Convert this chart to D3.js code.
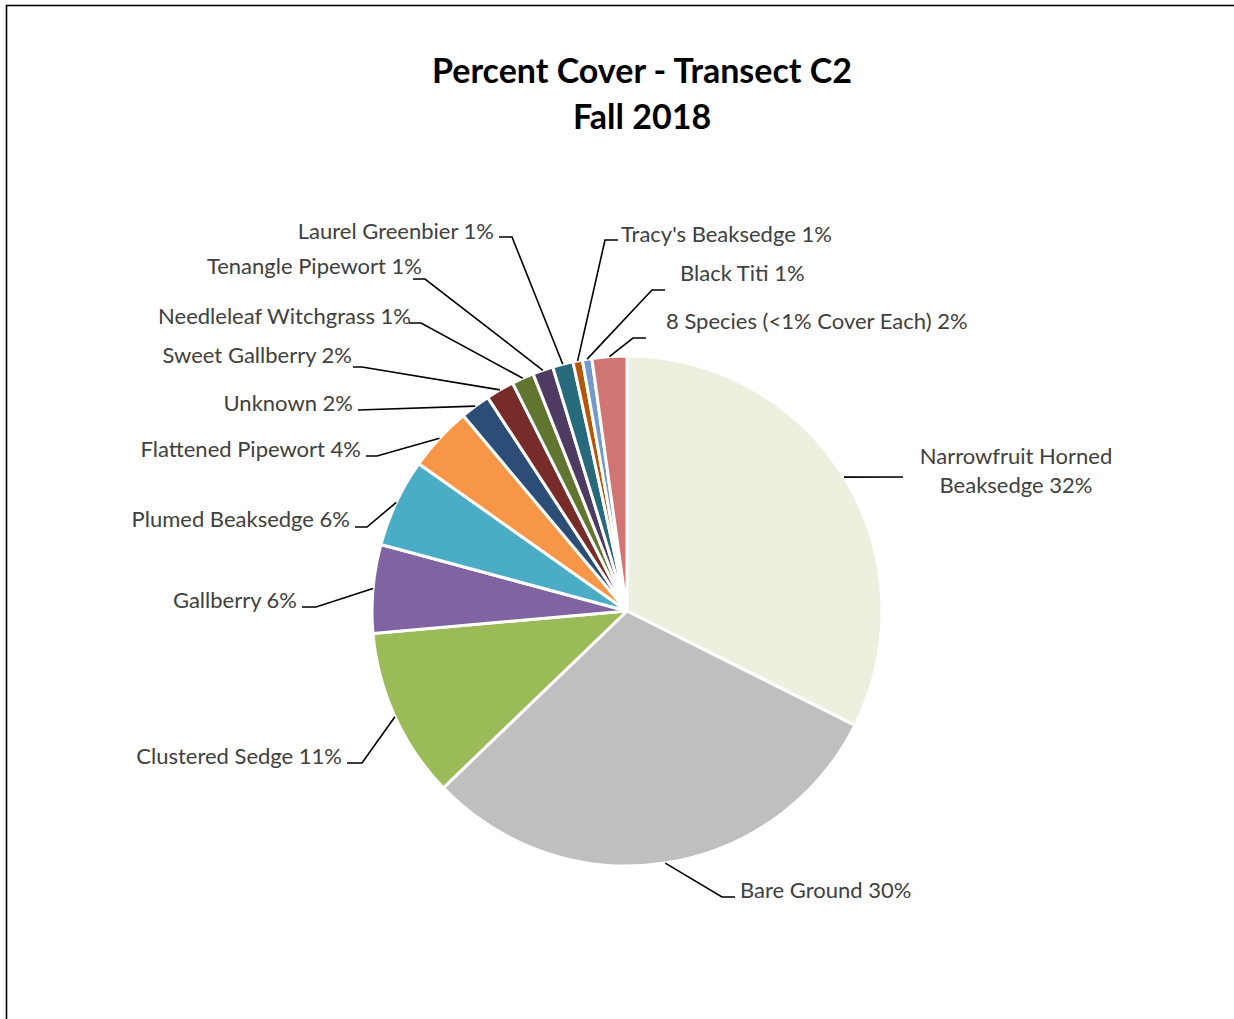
<!DOCTYPE html>
<html>
<head>
<meta charset="utf-8">
<script src="https://cdn.jsdelivr.net/npm/d3@7/dist/d3.min.js"></script>
<style>
  html, body { margin: 0; padding: 0; background: #fff; }
  svg { display: block; }
</style>
</head>
<body>
<svg id="chart" width="1234" height="1019"></svg>
<script>
// Percent cover by species, clockwise from 12 o'clock
const categories = [
  "Narrowfruit Horned Beaksedge", "Bare Ground", "Clustered Sedge", "Gallberry",
  "Plumed Beaksedge", "Flattened Pipewort", "Unknown", "Sweet Gallberry",
  "Needleleaf Witchgrass", "Tenangle Pipewort", "Laurel Greenbier",
  "Tracy's Beaksedge", "Black Titi", "8 Species (<1% Cover Each)"
];
const values = [32.4, 30.4, 10.8, 5.6, 5.6, 4.1, 1.9, 1.8, 1.4, 1.3, 1.3, 0.6, 0.6, 2.2];
const colors = [
  "#EBF1DE", "#BFBFBF", "#9BBB59", "#8064A2", "#4BACC6", "#F79646", "#2C4D75",
  "#772C2A", "#5F7530", "#4D3B62", "#276A7C", "#B65708", "#729ACA", "#D07574"
];
const titleLines = ["Percent Cover - Transect C2", "Fall 2018"];

// Label placement: text anchor point, leader elbow and leader end
const labelLayout = [
  { x: 1016, y: 456, anchor: "middle", lines: ["Narrowfruit Horned", "Beaksedge"], elbow: null, end: [903, 477] },
  { x: 740, y: 890, anchor: "start", elbow: [722, 897], end: [735, 897] },
  { x: 342, y: 756, anchor: "end", elbow: [362, 763], end: [347, 763] },
  { x: 297, y: 600, anchor: "end", elbow: [316, 607], end: [302, 607] },
  { x: 350, y: 519, anchor: "end", elbow: [367, 527], end: [355, 527] },
  { x: 361, y: 449, anchor: "end", elbow: [377, 456], end: [366, 456] },
  { x: 353, y: 403, anchor: "end", elbow: null, end: [358, 410] },
  { x: 352, y: 355, anchor: "end", elbow: [362, 367], end: [353, 367] },
  { x: 411, y: 316, anchor: "end", elbow: [421, 323], end: [409, 323] },
  { x: 422, y: 266, anchor: "end", elbow: [425, 279], end: [413, 279] },
  { x: 494, y: 231, anchor: "end", elbow: [512, 237], end: [499, 237] },
  { x: 621, y: 234, anchor: "start", elbow: [605, 240], end: [618, 240] },
  { x: 680, y: 273, anchor: "start", elbow: [652, 290], end: [665, 290] },
  { x: 666, y: 321, anchor: "start", elbow: [633, 338], end: [646, 338] }
];

const svg = d3.select("#chart");
const W = 1234, H = 1019;
const cx = 627, cy = 611, R = 255;
const font = "Lato, 'Open Sans', sans-serif";

// chart area frame
svg.append("rect")
  .attr("x", 6.5).attr("y", 5.5)
  .attr("width", W + 20).attr("height", H + 20)
  .attr("fill", "#fff").attr("stroke", "#000").attr("stroke-width", 1.6);

// title
svg.append("g").selectAll("text")
  .data(titleLines)
  .join("text")
  .attr("x", 642)
  .attr("y", (d, i) => 83 + i * 46)
  .attr("text-anchor", "middle")
  .attr("font-family", font)
  .attr("font-weight", "bold")
  .attr("font-size", 34)
  .attr("fill", "#000")
  .text(d => d);

const data = categories.map((c, i) => ({ name: c, value: values[i], color: colors[i], layout: labelLayout[i] }));

const pie = d3.pie().sort(null).value(d => d.value).startAngle(0).endAngle(2 * Math.PI);
const arcs = pie(data);
const arc = d3.arc().innerRadius(0).outerRadius(R);
const edgeArc = d3.arc().innerRadius(R).outerRadius(R);

const g = svg.append("g").attr("transform", `translate(${cx},${cy})`);

g.selectAll("path.slice")
  .data(arcs)
  .join("path")
  .attr("class", "slice")
  .attr("d", arc)
  .attr("fill", d => d.data.color)
  .attr("stroke", "#fff")
  .attr("stroke-width", 3)
  .attr("stroke-linejoin", "round");

// leader lines
const line = d3.line();
svg.append("g").selectAll("path.leader")
  .data(arcs)
  .join("path")
  .attr("class", "leader")
  .attr("d", d => {
    const [px, py] = edgeArc.centroid(d);
    const pts = [[cx + px, cy + py]];
    if (d.data.layout.elbow) pts.push(d.data.layout.elbow);
    pts.push(d.data.layout.end);
    return line(pts);
  })
  .attr("fill", "none")
  .attr("stroke", "#000")
  .attr("stroke-width", 1.6);

// data labels
const fmt = v => Math.round(v) + "%";
const labels = svg.append("g").selectAll("text.label")
  .data(arcs)
  .join("text")
  .attr("class", "label")
  .attr("x", d => d.data.layout.x)
  .attr("y", d => d.data.layout.y)
  .attr("dy", "0.35em")
  .attr("text-anchor", d => d.data.layout.anchor)
  .attr("font-family", font)
  .attr("font-size", 22)
  .attr("fill", "#404040");

labels.each(function (d) {
  const t = d3.select(this);
  const L = d.data.layout;
  if (L.lines) {
    L.lines.forEach((s, i) => {
      t.append("tspan")
        .attr("x", L.x)
        .attr("dy", i === 0 ? "0.35em" : "1.32em")
        .text(i === L.lines.length - 1 ? s + " " + fmt(d.data.value) : s);
    });
    t.attr("dy", null);
  } else {
    t.text(d.data.name + " " + fmt(d.data.value));
  }
});
</script>
</body>
</html>
